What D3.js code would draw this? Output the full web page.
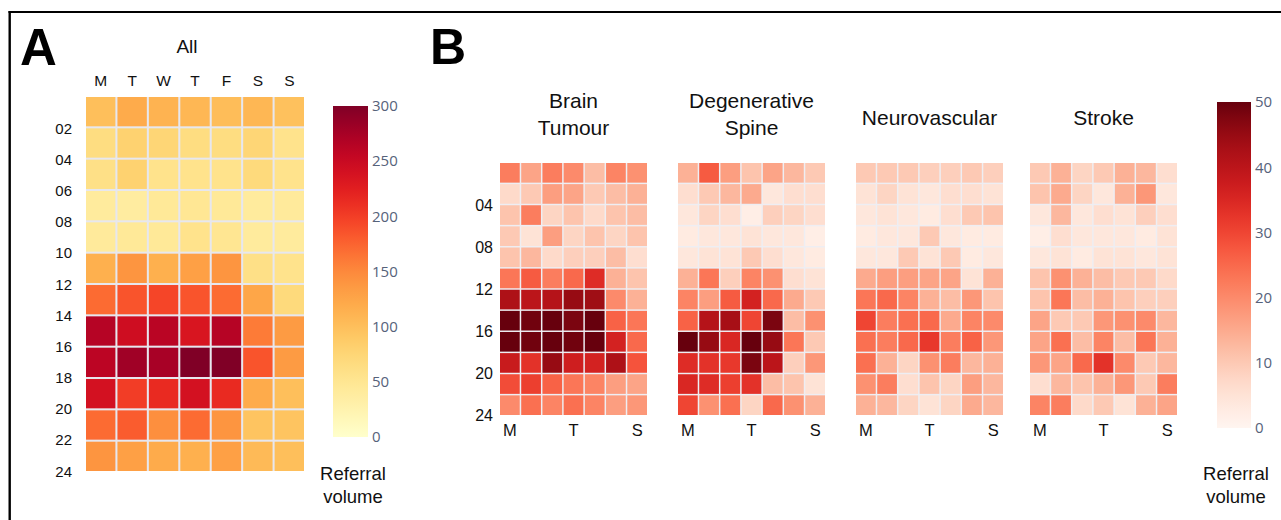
<!DOCTYPE html>
<html>
<head>
<meta charset="utf-8">
<script src="https://cdn.jsdelivr.net/npm/d3@7"></script>
<style>
  body { margin: 0; background: #fff; }
  svg { display: block; }
  text { font-family: "Liberation Sans", Arial, Helvetica, sans-serif; fill: #111; }
  .cbar text { font-family: "Open Sans", "Liberation Sans", sans-serif; fill: #56627a; }
</style>
</head>
<body>
<svg id="chart" width="1281" height="520"></svg>
<script>
// Weekday columns and two-hour time slots (rows)
const days = ["M", "T", "W", "T", "F", "S", "S"];
const slots = ["00-02", "02-04", "04-06", "06-08", "08-10", "10-12",
               "12-14", "14-16", "16-18", "18-20", "20-22", "22-24"];
const hourTicksA = ["02", "04", "06", "08", "10", "12", "14", "16", "18", "20", "22", "24"];
const hourTicksB = ["04", "08", "12", "16", "20", "24"];
const dayTicksB = [0, 3, 6];
const colorTicksA = [0, 50, 100, 150, 200, 250, 300];
const colorTicksB = [0, 10, 20, 30, 40, 50];

// Referral volume, all specialties (rows = time slots, columns = days)
const allReferrals = [
  [100, 120, 112, 108, 102, 108, 98],
  [65, 80, 75, 65, 65, 75, 55],
  [60, 80, 55, 55, 55, 70, 55],
  [40, 38, 45, 48, 45, 40, 42],
  [42, 45, 45, 55, 50, 40, 40],
  [115, 140, 115, 130, 140, 60, 55],
  [170, 185, 195, 185, 170, 125, 70],
  [265, 245, 262, 235, 265, 160, 135],
  [260, 280, 275, 300, 300, 185, 135],
  [240, 200, 215, 240, 215, 120, 100],
  [170, 180, 145, 170, 140, 95, 95],
  [140, 130, 120, 115, 130, 105, 100]
];

const brainTumour = [
  [22, 16, 22, 20, 12, 21, 19],
  [7, 10, 17, 16, 10, 12, 14],
  [11, 22, 8, 11, 7, 11, 12],
  [10, 5, 17, 8, 11, 8, 11],
  [11, 13, 7, 9, 9, 12, 6],
  [23, 27, 22, 25, 34, 14, 11],
  [42, 40, 41, 45, 44, 20, 14],
  [50, 49, 50, 48, 50, 26, 23],
  [50, 49, 50, 49, 50, 36, 25],
  [38, 33, 45, 37, 36, 42, 28],
  [29, 31, 26, 23, 21, 17, 16],
  [20, 24, 21, 24, 21, 17, 18]
];

const degenerativeSpine = [
  [14, 27, 17, 11, 16, 13, 10],
  [6, 10, 13, 15, 4, 6, 6],
  [4, 8, 6, 2, 9, 8, 6],
  [3, 4, 4, 5, 4, 4, 2],
  [4, 5, 5, 10, 6, 4, 3],
  [14, 23, 9, 21, 19, 6, 5],
  [21, 17, 27, 36, 25, 15, 10],
  [26, 41, 43, 30, 48, 12, 19],
  [50, 45, 35, 50, 45, 23, 10],
  [34, 33, 32, 48, 40, 9, 18],
  [35, 34, 31, 33, 12, 11, 5],
  [30, 19, 24, 8, 25, 19, 14]
];

const neurovascular = [
  [10, 10, 10, 9, 9, 10, 9],
  [5, 8, 5, 4, 6, 6, 5],
  [4, 5, 4, 3, 6, 10, 11],
  [3, 4, 4, 10, 4, 3, 3],
  [4, 4, 10, 5, 10, 3, 4],
  [15, 17, 17, 16, 16, 5, 14],
  [23, 25, 21, 14, 12, 18, 11],
  [30, 22, 24, 25, 15, 21, 20],
  [24, 22, 25, 32, 22, 26, 18],
  [24, 14, 8, 19, 22, 13, 14],
  [19, 22, 6, 11, 8, 17, 13],
  [14, 13, 8, 5, 8, 15, 13]
];

const stroke = [
  [10, 14, 8, 10, 14, 13, 6],
  [11, 15, 8, 4, 14, 18, 4],
  [4, 13, 4, 6, 5, 9, 6],
  [2, 6, 4, 4, 4, 3, 5],
  [4, 5, 3, 5, 5, 4, 5],
  [11, 19, 14, 12, 10, 10, 7],
  [11, 23, 12, 14, 11, 9, 9],
  [16, 10, 10, 18, 19, 20, 13],
  [16, 24, 12, 21, 12, 23, 14],
  [18, 16, 25, 33, 20, 10, 13],
  [6, 13, 11, 14, 18, 10, 22],
  [21, 22, 7, 10, 5, 14, 16]
];

const specialties = ["Brain Tumour", "Degenerative Spine", "Neurovascular", "Stroke"];
const specialtyTitles = [["Brain", "Tumour"], ["Degenerative", "Spine"], ["Neurovascular"], ["Stroke"]];
const specialtyData = [brainTumour, degenerativeSpine, neurovascular, stroke];

const svg = d3.select("#chart");

// Frame lines
svg.append("line").attr("x1", 8.5).attr("x2", 1281).attr("y1", 12).attr("y2", 12)
  .attr("stroke", "#000").attr("stroke-width", 2.2);
svg.append("line").attr("x1", 9.7).attr("x2", 9.7).attr("y1", 11).attr("y2", 520)
  .attr("stroke", "#000").attr("stroke-width", 2.4);

// Panel letters
svg.append("text").attr("x", 20).attr("y", 65).attr("font-size", 51).attr("font-weight", "bold").style("fill", "#000").text("A");
svg.append("text").attr("x", 430).attr("y", 64).attr("font-size", 50).attr("font-weight", "bold").style("fill", "#000").text("B");

// Draw one heatmap grid
function heatmap(g, data, x0, y0, w, h, color, gapColor, pad) {
  const x = d3.scaleBand().domain(d3.range(days.length)).range([x0, x0 + w]).paddingInner(pad);
  const y = d3.scaleBand().domain(d3.range(slots.length)).range([y0, y0 + h]).paddingInner(pad);
  g.append("rect").attr("x", x0).attr("y", y0).attr("width", w).attr("height", h).attr("fill", gapColor);
  data.forEach((row, r) => {
    row.forEach((v, c) => {
      g.append("rect")
        .attr("x", x(c)).attr("y", y(r))
        .attr("width", x.bandwidth()).attr("height", y.bandwidth())
        .attr("fill", color(v));
    });
  });
  return { x, y, edge: d3.scaleLinear().domain([0, 24]).range([y0, y0 + h]) };
}

// Vertical colour bar with tick labels
function colorbar(g, x0, y0, w, h, color, domain, ticks, id) {
  const grad = svg.append("defs").append("linearGradient").attr("id", id)
    .attr("x1", 0).attr("y1", 1).attr("x2", 0).attr("y2", 0);
  d3.range(0, 1.0001, 0.05).forEach(t => {
    grad.append("stop").attr("offset", t).attr("stop-color", color(domain[0] + t * (domain[1] - domain[0])));
  });
  g.append("rect").attr("x", x0).attr("y", y0).attr("width", w).attr("height", h).attr("fill", `url(#${id})`);
  const s = d3.scaleLinear().domain(domain).range([y0 + h, y0]);
  const axis = g.append("g").attr("class", "cbar").attr("transform", `translate(${x0 + w},0)`)
    .call(d3.axisRight(s).tickValues(ticks).tickSize(0).tickPadding(4));
  axis.select(".domain").remove();
  axis.selectAll("text").attr("font-size", 15).attr("font-family", null);
}

// ---- Panel A: all referrals ----
const colorA = d3.scaleSequential(d3.interpolateYlOrRd).domain([0, 300]).clamp(true);
const gA = svg.append("g");
const A = heatmap(gA, allReferrals, 86, 97, 218, 374, colorA, "#e7e7ee", 0.065);

gA.append("text").attr("x", 187).attr("y", 53).attr("text-anchor", "middle").attr("font-size", 19).text("All");
gA.selectAll(".day").data(days).join("text")
  .attr("x", (d, i) => A.x(i) + A.x.bandwidth() / 2).attr("y", 86)
  .attr("text-anchor", "middle").attr("font-size", 15.5).text(d => d);
gA.selectAll(".hour").data(hourTicksA).join("text")
  .attr("x", 72).attr("y", d => A.edge(+d) + 5.5)
  .attr("text-anchor", "end").attr("font-size", 15).text(d => d);

colorbar(gA, 333, 106, 35, 331, colorA, [0, 300], colorTicksA, "gradA");
gA.append("text").attr("x", 353).attr("y", 480).attr("text-anchor", "middle").attr("font-size", 18.5).text("Referral");
gA.append("text").attr("x", 353).attr("y", 503).attr("text-anchor", "middle").attr("font-size", 18.5).text("volume");

// ---- Panel B: referrals by specialty ----
const colorB = d3.scaleSequential(d3.interpolateReds).domain([0, 50]).clamp(true);
const gridLeft = [500, 678, 856, 1030];
specialtyData.forEach((data, k) => {
  const g = svg.append("g");
  const H = heatmap(g, data, gridLeft[k], 163, 147, 252, colorB, "#eeeef3", 0.07);
  const cx = gridLeft[k] + 73.5;
  const lines = specialtyTitles[k];
  const baselines = lines.length === 2 ? [108, 135] : [125];
  lines.forEach((t, i) => {
    g.append("text").attr("x", cx).attr("y", baselines[i]).attr("text-anchor", "middle")
      .attr("font-size", 21).text(t);
  });
  g.selectAll(".day").data(dayTicksB).join("text")
    .attr("x", i => H.x(i) + H.x.bandwidth() / 2).attr("y", 436)
    .attr("text-anchor", "middle").attr("font-size", 16.5).text(i => days[i]);
  if (k === 0) {
    g.selectAll(".hour").data(hourTicksB).join("text")
      .attr("x", 493).attr("y", d => H.edge(+d) + 6)
      .attr("text-anchor", "end").attr("font-size", 16).text(d => d);
  }
});

const gB = svg.append("g");
colorbar(gB, 1217, 102, 34, 326, colorB, [0, 50], colorTicksB, "gradB");
gB.append("text").attr("x", 1236).attr("y", 480).attr("text-anchor", "middle").attr("font-size", 18.5).text("Referral");
gB.append("text").attr("x", 1236).attr("y", 503).attr("text-anchor", "middle").attr("font-size", 18.5).text("volume");
</script>
</body>
</html>
